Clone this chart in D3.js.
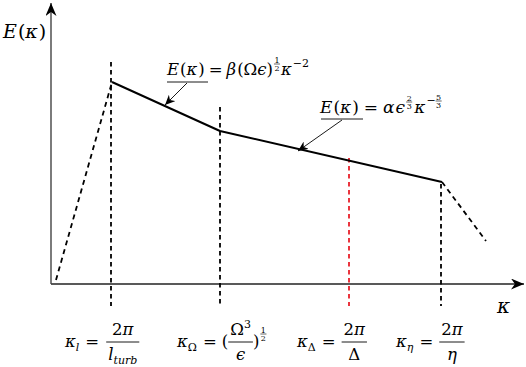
<!DOCTYPE html>
<html>
<head>
<meta charset="utf-8">
<script src="https://cdn.jsdelivr.net/npm/d3@7"></script>
<style>
  body { margin: 0; background: #fff; }
</style>
</head>
<body>
<div id="chart"></div>
<script>
// Spectrum vertices (sketch units, not physical)
const specK = [5, 61, 169, 391, 435];
const specE = [4, 202, 153, 102, 43];
const specDash = [true, false, false, true]; // one flag per segment

// Cut-off wavenumbers and the top of their vertical markers
const cutK = [60, 169, 298, 390];
const cutTop = [222, 177, 126, 100];
const cutBottom = -22;
const cutColor = ["#000", "#000", "#e8202a", "#000"];

// Where the annotation arrows land on the spectrum
const annTipK = [114, 247];
const annTipE = [179, 133];

const width = 526, height = 367;
const mathFont = "'DejaVu Serif', serif";

const svg = d3.select("#chart")
  .append("svg")
  .attr("width", width)
  .attr("height", height);

const x = d3.scaleLinear().domain([0, 470]).range([51, 521]);
const y = d3.scaleLinear().domain([0, 280]).range([284, 4]);

// arrow heads
const defs = svg.append("defs");
function arrowMarker(id, len, half) {
  defs.append("marker")
    .attr("id", id)
    .attr("markerUnits", "userSpaceOnUse")
    .attr("viewBox", `${-len} ${-half} ${len + 1} ${half * 2}`)
    .attr("refX", 0).attr("refY", 0)
    .attr("markerWidth", len + 1).attr("markerHeight", half * 2)
    .attr("orient", "auto")
    .append("path")
    .attr("d", `M0,0 L${-len},${-half} L${-len * 0.7},0 L${-len},${half} Z`)
    .attr("fill", "#000");
}
arrowMarker("axisArrow", 13, 5.5);
arrowMarker("annArrow", 10, 4.5);

// axes
svg.append("line")
  .attr("x1", x(0)).attr("y1", y(0))
  .attr("x2", x(473)).attr("y2", y(0))
  .attr("stroke", "#222").attr("stroke-width", 1.4)
  .attr("marker-end", "url(#axisArrow)");
svg.append("line")
  .attr("x1", x(0)).attr("y1", y(0))
  .attr("x2", x(0)).attr("y2", y(281))
  .attr("stroke", "#444").attr("stroke-width", 1.4)
  .attr("marker-end", "url(#axisArrow)");

// vertical cut-off markers
svg.selectAll(".cut")
  .data(cutK)
  .enter()
  .append("line")
  .attr("class", "cut")
  .attr("x1", d => x(d)).attr("x2", d => x(d))
  .attr("y1", (d, i) => y(cutTop[i]))
  .attr("y2", y(cutBottom))
  .attr("stroke", (d, i) => cutColor[i])
  .attr("stroke-width", 1.8)
  .attr("stroke-dasharray", "4.5,3.5");

// spectrum: solid part as one path, dashed ends separately
const pts = specK.map((k, i) => [x(k), y(specE[i])]);
const line = d3.line();
const solidIdx = [];
specDash.forEach((dash, i) => {
  if (dash) {
    svg.append("path")
      .attr("d", line([pts[i], pts[i + 1]]))
      .attr("fill", "none").attr("stroke", "#000")
      .attr("stroke-width", 1.8)
      .attr("stroke-dasharray", "5,4");
  } else {
    if (!solidIdx.includes(i)) solidIdx.push(i);
    solidIdx.push(i + 1);
  }
});
svg.append("path")
  .attr("d", line(solidIdx.map(i => pts[i])))
  .attr("fill", "none").attr("stroke", "#000")
  .attr("stroke-width", 2)
  .attr("stroke-linejoin", "round");

// tiny math typesetter: items are text runs or stacked fractions
function mathRow(parent, items, size) {
  const g = parent.append("g");
  let cx = 0;
  items.forEach(it => {
    if (it.frac) {
      const fs = it.s || size;
      const num = mathRow(g, it.frac[0], fs);
      const den = mathRow(g, it.frac[1], fs);
      const pad = it.pad == null ? 2 : it.pad;
      const w = Math.max(num.w, den.w) + pad * 2;
      num.g.attr("transform", `translate(${cx + (w - num.w) / 2},${it.axis - it.gapN})`);
      den.g.attr("transform", `translate(${cx + (w - den.w) / 2},${it.axis + it.gapD})`);
      g.append("line")
        .attr("x1", cx).attr("x2", cx + w)
        .attr("y1", it.axis).attr("y2", it.axis)
        .attr("stroke", "#000").attr("stroke-width", it.bw || 0.9);
      cx += w + (it.sp || 0);
    } else {
      cx += it.pre || 0;
      const t = g.append("text")
        .attr("x", cx)
        .attr("y", it.dy || 0)
        .attr("font-family", mathFont)
        .attr("font-size", it.s || size)
        .attr("font-style", it.i ? "italic" : "normal")
        .attr("fill", "#000")
        .text(it.t);
      cx += t.node().getComputedTextLength() + (it.sp || 0);
    }
  });
  return { g, w: cx };
}
function placeMath(items, size, px, py) {
  const m = mathRow(svg, items, size);
  m.g.attr("transform", `translate(${px},${py})`);
  return m;
}

// axis labels
placeMath([
  { t: "E", i: true, sp: 1 }, { t: "(" }, { t: "κ", i: true, sp: 1 }, { t: ")" }
], 19, 3, 38);
placeMath([{ t: "κ", i: true }], 20, 497, 313);

// annotations
const tinyFrac = (a, b, axis, sp) => ({
  frac: [[{ t: a }], [{ t: b }]], s: 8, axis: axis, gapN: 1.5, gapD: 6.5, pad: 0.5, bw: 0.6, sp: sp || 0
});
placeMath([
  { t: "E", i: true, sp: 1 }, { t: "(" }, { t: "κ", i: true, sp: 1 }, { t: ")" },
  { t: "=", pre: 4, sp: 4 },
  { t: "β", i: true, sp: 1 }, { t: "(Ω" }, { t: "ϵ", i: true }, { t: ")", sp: 1 },
  tinyFrac("1", "2", -11, 1),
  { t: "κ", i: true, sp: 1 }, { t: "−2", s: 11, dy: -8 }
], 16.5, 167, 75);
placeMath([
  { t: "E", i: true, sp: 1 }, { t: "(" }, { t: "κ", i: true, sp: 1 }, { t: ")" },
  { t: "=", pre: 5, sp: 5 },
  { t: "α", i: true, sp: 1 }, { t: "ϵ", i: true, sp: 1 },
  tinyFrac("2", "3", -11, 2),
  { t: "κ", i: true, sp: 1 }, { t: "−", s: 11, dy: -9 },
  tinyFrac("5", "3", -12, 0)
], 17, 320, 113);

// underlines and arrows of the annotations
const annStart = [[167, 82, 208, 187], [321, 119, 363, 342]];
annStart.forEach((a, i) => {
  svg.append("line")
    .attr("x1", a[0]).attr("x2", a[2]).attr("y1", a[1]).attr("y2", a[1])
    .attr("stroke", "#000").attr("stroke-width", 0.9);
  svg.append("line")
    .attr("x1", a[3]).attr("y1", a[1] + 1)
    .attr("x2", x(annTipK[i])).attr("y2", y(annTipE[i]))
    .attr("stroke", "#000").attr("stroke-width", 0.9)
    .attr("marker-end", "url(#annArrow)");
});

// cut-off labels under the axis
const bigFrac = (num, den) => ({ frac: [num, den], axis: -5, gapN: 7, gapD: 18, pad: 2, bw: 0.9 });
const sub = (t, it) => ({ t: t, i: it, s: 11, dy: 4 });
const cutLabels = [
  [{ t: "κ", i: true }, sub("l", true),
   { t: "=", pre: 6, sp: 7 },
   bigFrac([{ t: "2" }, { t: "π", i: true }],
           [{ t: "l", i: true }, sub("turb", true)])],
  [{ t: "κ", i: true }, sub("Ω", false),
   { t: "=", pre: 6, sp: 5 },
   { t: "(" },
   bigFrac([{ t: "Ω" }, { t: "3", s: 11, dy: -7 }], [{ t: "ϵ", i: true }]),
   { t: ")", sp: 1 },
   tinyFrac("1", "2", -13, 0)],
  [{ t: "κ", i: true }, sub("Δ", false),
   { t: "=", pre: 6, sp: 6 },
   bigFrac([{ t: "2" }, { t: "π", i: true }], [{ t: "Δ" }])],
  [{ t: "κ", i: true }, sub("η", true),
   { t: "=", pre: 6, sp: 6 },
   bigFrac([{ t: "2" }, { t: "π", i: true }], [{ t: "η", i: true }])]
];
const labelShift = [-46, -43, -52, -45];
cutLabels.forEach((items, i) => {
  placeMath(items, 16.5, x(cutK[i]) + labelShift[i], 347);
});
</script>
</body>
</html>
